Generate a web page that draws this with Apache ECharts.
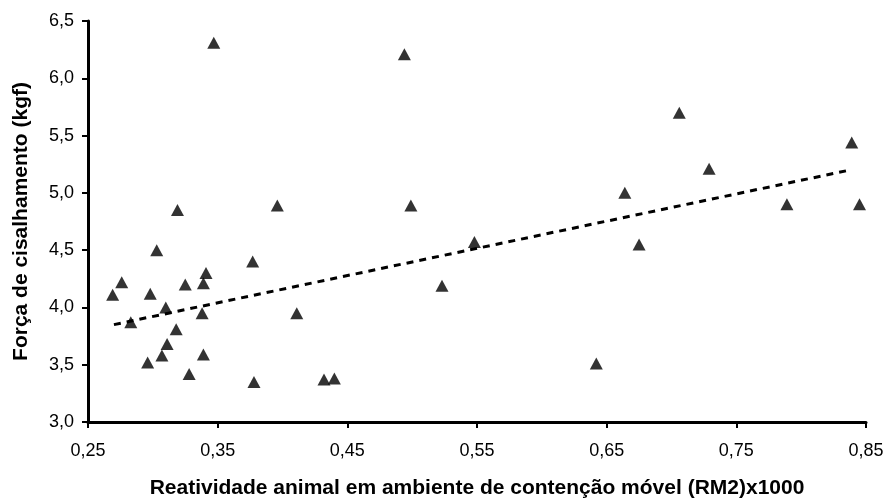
<!DOCTYPE html>
<html>
<head>
<meta charset="utf-8">
<script src="https://cdn.jsdelivr.net/npm/echarts@6/dist/echarts.min.js"></script>
<style>
html,body{margin:0;padding:0;background:#fff;}
#c{width:889px;height:499px;}
</style>
</head>
<body>
<div id="c"></div>
<script>
// Reatividade animal (RM2)x1000
var xValues = [0.269,0.276,0.283,0.296,0.298,0.303,0.307,0.310,0.311,0.318,0.319,0.325,0.328,0.339,0.338,0.341,0.339,0.347,0.377,0.378,0.396,0.411,0.432,0.440,0.494,0.499,0.523,0.548,0.642,0.664,0.675,0.706,0.729,0.789,0.839,0.845];
// Força de cisalhamento (kgf)
var yValues = [4.11,4.22,3.87,3.52,4.12,4.50,3.58,4.00,3.68,3.81,4.85,4.20,3.42,4.21,3.95,4.30,3.59,6.31,4.40,3.35,4.89,3.95,3.37,3.38,6.21,4.89,4.19,4.57,3.51,5.00,4.55,5.70,5.21,4.90,5.44,4.90];
// linear trend line endpoints
var trendX = [0.270, 0.838];
var trendY = [3.85, 5.20];
var xTickLabels = ['0,25','0,35','0,45','0,55','0,65','0,75','0,85'];
var yTickLabels = ['3,0','3,5','4,0','4,5','5,0','5,5','6,0','6,5'];

var points = xValues.map(function(v,i){return [v,yValues[i]];});
var trend = trendX.map(function(v,i){return [v,trendY[i]];});

var font = 'Liberation Sans, Arial, sans-serif';
var chart = echarts.init(document.getElementById('c'));
chart.setOption({
  animation:false,
  backgroundColor:'#fff',
  grid:{left:88,right:23,top:21,bottom:77,containLabel:false,outerBoundsMode:'none'},
  xAxis:{
    type:'value',min:0.25,max:0.85,interval:0.1,
    name:'Reatividade animal em ambiente de contenção móvel (RM2)x1000',
    nameLocation:'middle',nameGap:56,
    nameTextStyle:{fontFamily:font,fontSize:21,fontWeight:'bold',color:'#000'},
    axisLine:{lineStyle:{color:'#000',width:3}},
    axisTick:{length:6,lineStyle:{color:'#000',width:2}},
    axisLabel:{margin:20,fontFamily:font,fontSize:18,color:'#000',
      formatter:function(v){var k=Math.round((v-0.25)/0.1);return xTickLabels[k]!==undefined?xTickLabels[k]:'';}},
    splitLine:{show:false}
  },
  yAxis:{
    type:'value',min:3,max:6.5,interval:0.5,
    name:'Força de cisalhamento (kgf)',
    nameLocation:'middle',nameGap:56,
    nameTextStyle:{fontFamily:font,fontSize:21,fontWeight:'bold',color:'#000'},
    axisLine:{show:true,lineStyle:{color:'#000',width:3}},
    axisTick:{show:true,length:6,lineStyle:{color:'#000',width:2}},
    axisLabel:{margin:14,fontFamily:font,fontSize:18,color:'#000',
      formatter:function(v){var k=Math.round((v-3)/0.5);return yTickLabels[k]!==undefined?yTickLabels[k]:'';}},
    splitLine:{show:false}
  },
  series:[
    {type:'line',data:trend,symbol:'none',silent:true,
      lineStyle:{color:'#000',width:3,type:[7,6]},z:1},
    {type:'scatter',data:points,symbol:'triangle',symbolSize:[13,12],
      itemStyle:{color:'#000'},z:2}
  ]
});
</script>
</body>
</html>
